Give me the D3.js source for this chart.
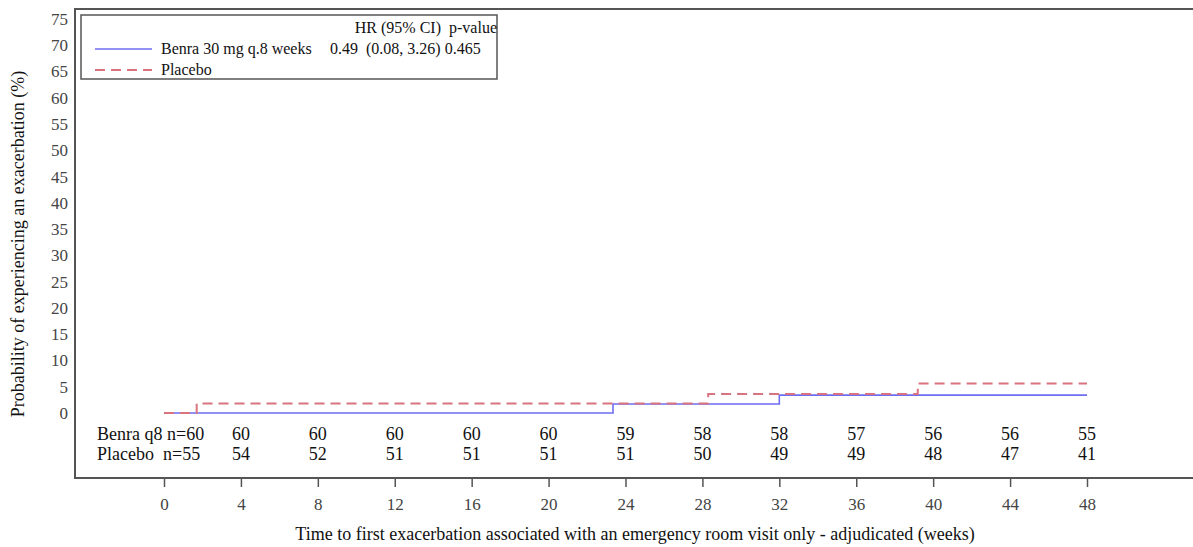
<!DOCTYPE html>
<html>
<head>
<meta charset="utf-8">
<script src="https://cdn.jsdelivr.net/npm/d3@7"></script>
<style>
  body { margin: 0; background: #fff; }
  svg text { font-family: "Liberation Serif", "DejaVu Serif", serif; }
</style>
</head>
<body>
<div id="chart"></div>
<script>
// chart values
var weekTicks = [0, 4, 8, 12, 16, 20, 24, 28, 32, 36, 40, 44, 48];
var probTicks = [0, 5, 10, 15, 20, 25, 30, 35, 40, 45, 50, 55, 60, 65, 70, 75];
var benraWeeks = [0, 23.35, 32.0, 48];
var benraProb = [0, 1.7, 3.4, 3.4];
var placeboWeeks = [0, 1.7, 28.3, 39.2, 48];
var placeboProb = [0, 1.8, 3.6, 5.6, 5.6];
var benraAtRisk = [60, 60, 60, 60, 60, 60, 59, 58, 58, 57, 56, 56, 55];
var placeboAtRisk = [55, 54, 52, 51, 51, 51, 51, 50, 49, 49, 48, 47, 41];

var width = 1193, height = 547;
var frame = { left: 75, top: 9, bottom: 478 };

var svg = d3.select("#chart").append("svg")
    .attr("width", width)
    .attr("height", height);

var x = d3.scaleLinear().domain([0, 48]).range([164, 1087]);
var y = d3.scaleLinear().domain([0, 75]).range([413, 19]);

// outer frame (open on the right, runs off the picture)
svg.append("path")
    .attr("d", "M" + (width + 2) + "," + frame.top + "H" + frame.left + "V" + frame.bottom + "H" + (width + 2))
    .attr("fill", "none")
    .attr("stroke", "#555")
    .attr("stroke-width", 2);

// y tick labels only, no tick marks
svg.append("g").selectAll("text")
    .data(probTicks)
    .enter().append("text")
    .attr("x", 68)
    .attr("y", function(d) { return y(d); })
    .attr("dy", "0.35em")
    .attr("text-anchor", "end")
    .attr("font-size", 17)
    .attr("fill", "#444")
    .text(function(d) { return d; });

svg.append("text")
    .attr("transform", "translate(24,244) rotate(-90)")
    .attr("text-anchor", "middle")
    .attr("font-size", 18)
    .attr("fill", "#111")
    .text("Probability of experiencing an exacerbation (%)");

// x axis ticks below the frame
var xAxis = svg.append("g")
    .attr("transform", "translate(0," + frame.bottom + ")")
    .call(d3.axisBottom(x).tickValues(weekTicks).tickSize(9).tickPadding(11).tickSizeOuter(0));
xAxis.select(".domain").remove();
xAxis.selectAll(".tick line").attr("stroke", "#555").attr("stroke-width", 1.5);
xAxis.selectAll(".tick text")
    .attr("font-size", 17)
    .attr("fill", "#444")
    .attr("font-family", "Liberation Serif, serif");

svg.append("text")
    .attr("x", 635)
    .attr("y", 540)
    .attr("text-anchor", "middle")
    .attr("font-size", 18)
    .attr("fill", "#111")
    .text("Time to first exacerbation associated with an emergency room visit only - adjudicated (weeks)");

// KM step curves
var line = d3.line()
    .curve(d3.curveStepAfter)
    .x(function(d) { return x(d[0]); })
    .y(function(d) { return y(d[1]); });

svg.append("path")
    .datum(d3.zip(benraWeeks, benraProb))
    .attr("d", line)
    .attr("fill", "none")
    .attr("stroke", "#6e6ef2")
    .attr("stroke-width", 1.6);

svg.append("path")
    .datum(d3.zip(placeboWeeks, placeboProb))
    .attr("d", line)
    .attr("fill", "none")
    .attr("stroke", "#d8737f")
    .attr("stroke-width", 2)
    .attr("stroke-dasharray", "10,6");

// number at risk rows
var rows = [
    { label: "Benra q8", values: benraAtRisk, y: 440 },
    { label: "Placebo ", values: placeboAtRisk, y: 460 }
];
rows.forEach(function(r) {
    svg.append("text")
        .attr("x", 97)
        .attr("y", r.y)
        .attr("font-size", 18)
        .attr("fill", "#111")
        .attr("xml:space", "preserve")
        .text(r.label + " n=" + r.values[0]);
    svg.append("g").selectAll("text")
        .data(r.values.slice(1))
        .enter().append("text")
        .attr("x", function(d, i) { return x(weekTicks[i + 1]); })
        .attr("y", r.y)
        .attr("text-anchor", "middle")
        .attr("font-size", 18)
        .attr("fill", "#111")
        .text(function(d) { return d; });
});

// legend box
var legend = svg.append("g");
legend.append("rect")
    .attr("x", 81).attr("y", 15)
    .attr("width", 416).attr("height", 64)
    .attr("fill", "#fff")
    .attr("stroke", "#555")
    .attr("stroke-width", 1.5);
legend.append("text")
    .attr("x", 497).attr("y", 33)
    .attr("text-anchor", "end")
    .attr("font-size", 16).attr("fill", "#111")
    .attr("xml:space", "preserve")
    .text("HR (95% CI)  p-value");
legend.append("line")
    .attr("x1", 95).attr("x2", 152).attr("y1", 49).attr("y2", 49)
    .attr("stroke", "#6e6ef2").attr("stroke-width", 1.6);
legend.append("text")
    .attr("x", 161).attr("y", 54)
    .attr("font-size", 16).attr("fill", "#111")
    .text("Benra 30 mg q.8 weeks");
legend.append("text")
    .attr("x", 330).attr("y", 54)
    .attr("font-size", 16).attr("fill", "#111")
    .attr("xml:space", "preserve")
    .text("0.49  (0.08, 3.26) 0.465");
legend.append("line")
    .attr("x1", 95).attr("x2", 152).attr("y1", 70).attr("y2", 70)
    .attr("stroke", "#d8737f").attr("stroke-width", 2)
    .attr("stroke-dasharray", "10,6");
legend.append("text")
    .attr("x", 161).attr("y", 75)
    .attr("font-size", 16).attr("fill", "#111")
    .text("Placebo");
</script>
</body>
</html>
